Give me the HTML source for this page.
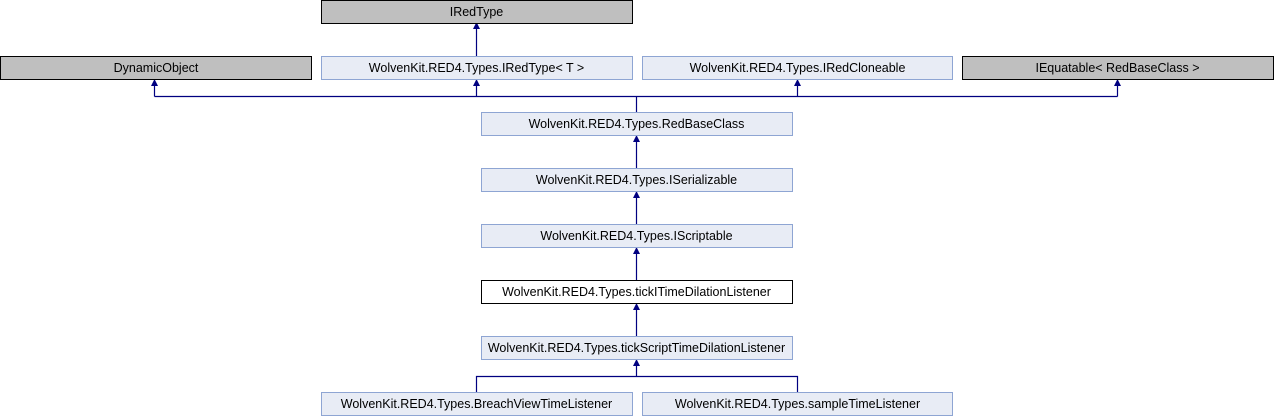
<!DOCTYPE html>
<html><head><style>body{margin:0;background:#fff}svg{display:block}</style></head><body>
<svg width="1274" height="416" xmlns="http://www.w3.org/2000/svg" font-family="Liberation Sans, sans-serif" font-size="12.5">
<g fill="none" stroke="#000080" stroke-width="1.2">
<path d="M476.5,56 V26" />
<path d="M154.5,96.5 H1117.5 M154.5,96.5 V82 M476.5,96.5 V82 M797.5,96.5 V82 M1117.5,96.5 V82 M636.5,96.5 V112"/>
<path d="M636.5,168 V138 M636.5,224 V194 M636.5,280 V250 M636.5,336 V306"/>
<path d="M476.5,392 V376.5 H797.5 V392 M636.5,376.5 V362"/>
</g>
<g fill="#000080">
<path d="M473,29 L476.5,22 L480,29Z"/>
<path d="M151,86 L154.5,79 L158,86Z"/><path d="M473,86 L476.5,79 L480,86Z"/><path d="M794,86 L797.5,79 L801,86Z"/><path d="M1114,86 L1117.5,79 L1121,86Z"/>
<path d="M633,142 L636.5,135 L640,142Z"/><path d="M633,198 L636.5,191 L640,198Z"/><path d="M633,254 L636.5,247 L640,254Z"/><path d="M633,310 L636.5,303 L640,310Z"/><path d="M633,366 L636.5,359 L640,366Z"/>
</g>
<g text-anchor="middle">
<rect x="321.5" y="0.5" width="311" height="23" fill="#bfbfbf" stroke="#000"/><text x="476.5" y="16">IRedType</text>
<rect x="0.5" y="56.5" width="311" height="23" fill="#bfbfbf" stroke="#000"/><text x="156" y="72">DynamicObject</text>
<rect x="321.5" y="56.5" width="311" height="23" fill="#e8ecf5" stroke="#8ea5d3"/><text x="476.5" y="72">WolvenKit.RED4.Types.IRedType&lt; T &gt;</text>
<rect x="642.5" y="56.5" width="310" height="23" fill="#e8ecf5" stroke="#8ea5d3"/><text x="797.5" y="72">WolvenKit.RED4.Types.IRedCloneable</text>
<rect x="962.5" y="56.5" width="311" height="23" fill="#bfbfbf" stroke="#000"/><text x="1117.5" y="72">IEquatable&lt; RedBaseClass &gt;</text>
<rect x="481.5" y="112.5" width="311" height="23" fill="#e8ecf5" stroke="#8ea5d3"/><text x="636.5" y="128">WolvenKit.RED4.Types.RedBaseClass</text>
<rect x="481.5" y="168.5" width="311" height="23" fill="#e8ecf5" stroke="#8ea5d3"/><text x="636.5" y="184">WolvenKit.RED4.Types.ISerializable</text>
<rect x="481.5" y="224.5" width="311" height="23" fill="#e8ecf5" stroke="#8ea5d3"/><text x="636.5" y="240">WolvenKit.RED4.Types.IScriptable</text>
<rect x="481.5" y="280.5" width="311" height="23" fill="#fff" stroke="#000"/><text x="636.5" y="296">WolvenKit.RED4.Types.tickITimeDilationListener</text>
<rect x="481.5" y="336.5" width="311" height="23" fill="#e8ecf5" stroke="#8ea5d3"/><text x="636.5" y="352">WolvenKit.RED4.Types.tickScriptTimeDilationListener</text>
<rect x="321.5" y="392.5" width="311" height="23" fill="#e8ecf5" stroke="#8ea5d3"/><text x="476.5" y="408">WolvenKit.RED4.Types.BreachViewTimeListener</text>
<rect x="642.5" y="392.5" width="310" height="23" fill="#e8ecf5" stroke="#8ea5d3"/><text x="797.5" y="408">WolvenKit.RED4.Types.sampleTimeListener</text>
</g>
</svg>
</body></html>
